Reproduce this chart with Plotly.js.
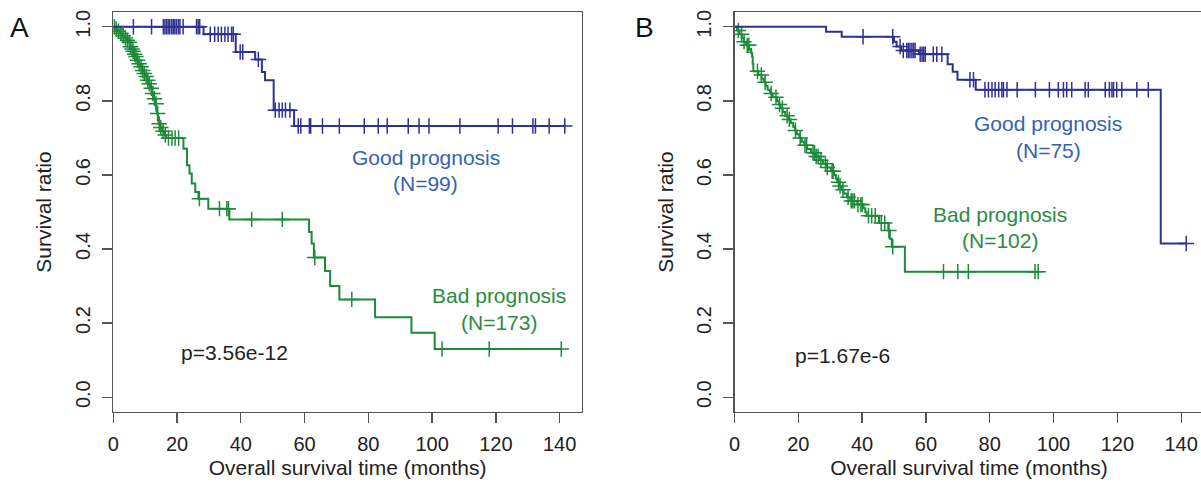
<!DOCTYPE html>
<html>
<head>
<meta charset="utf-8">
<script src="https://cdn.plot.ly/plotly-3.0.1.min.js"></script>
<style>
html,body{margin:0;padding:0;overflow:hidden;background:#fff;}
#chart{width:1206px;height:486px;}
</style>
</head>
<body>
<div id="chart"></div>
<script>
// ---------- Panel A ----------
const aGoodTime = [0, 28.3, 38.4, 44.5, 46.6, 47.6, 50.3, 56.7];
const aGoodSurv = [1.0, 0.980, 0.932, 0.912, 0.878, 0.856, 0.775, 0.732];
const aGoodCens = [6.3, 12.0, 15.7, 16.2, 16.7, 17.2, 17.7, 18.3, 18.8, 19.3, 19.8, 20.4, 20.9, 21.9, 26.1, 26.6, 27.1,
  30.4, 31.8, 32.9, 33.9, 35.0, 36.0, 37.1, 37.6, 39.8, 40.6, 45.5, 50.8, 52.0, 53.0, 54.0, 55.4,
  58.0, 58.8, 61.5, 61.9, 65.6, 70.9, 78.7, 83.1, 85.9, 92.5, 95.9, 99.0, 108.7, 120.7, 125.2, 131.6, 132.4, 136.7, 141.6];

const aBadTime = [0, 0.5, 1.0, 2.0, 2.8, 3.5, 4.2, 4.8, 5.2, 5.6, 6.0, 6.4, 6.9, 7.4, 7.9, 8.4, 9.0, 9.5, 10.0, 10.6,
  11.1, 11.6, 12.1, 12.6, 13.2, 13.5, 13.7, 14.0, 14.2, 14.7, 15.2, 16.0, 16.6, 22.0, 23.1, 23.9, 24.6, 25.7, 26.7, 29.8,
  36.4, 61.4, 62.2, 62.9, 66.4, 68.0, 70.9, 82.1, 93.5, 100.8];
const aBadSurv = [1.0, 0.994, 0.988, 0.982, 0.976, 0.970, 0.964, 0.958, 0.946, 0.940, 0.934, 0.926, 0.920, 0.910, 0.900, 0.892, 0.882, 0.874, 0.866, 0.856,
  0.846, 0.834, 0.820, 0.806, 0.792, 0.780, 0.766, 0.752, 0.738, 0.728, 0.718, 0.708, 0.700, 0.671, 0.626, 0.604, 0.577, 0.554, 0.536, 0.509,
  0.480, 0.446, 0.415, 0.377, 0.341, 0.300, 0.264, 0.216, 0.174, 0.130];
const aBadCens = [0.3, 0.9, 1.6, 2.4, 3.1, 3.8, 4.4, 5.0, 5.4, 5.9, 6.2, 6.7, 7.1, 7.6, 8.1, 8.7, 9.2, 9.7, 10.3, 10.8,
  11.3, 11.9, 12.4, 12.9, 13.4, 13.9, 14.4, 14.9, 15.6, 16.3, 17.3, 18.4, 19.4, 20.5, 27.0, 33.3, 35.6, 36.1, 43.4, 53.0,
  63.2, 74.8, 103.1, 117.9, 140.5];

// ---------- Panel B ----------
const bGoodTime = [0, 28.7, 33.6, 50.0, 50.8, 52.2, 57.8, 66.8, 68.4, 69.9, 75.6, 133.6];
const bGoodSurv = [1.0, 0.987, 0.973, 0.960, 0.947, 0.936, 0.926, 0.899, 0.879, 0.857, 0.830, 0.415];
const bGoodCens = [40.3, 49.6, 51.9, 52.9, 54.0, 54.5, 55.0, 55.6, 56.1, 56.6, 58.2, 58.8, 59.3, 59.8, 62.3, 63.4, 65.0, 73.8, 74.9,
  78.5, 79.6, 80.7, 81.7, 82.8, 83.8, 84.3, 85.4, 88.6, 94.3, 98.7, 101.5, 103.1, 104.1, 105.7, 109.9, 110.9, 116.2, 117.5,
  118.3, 118.8, 119.8, 121.4, 126.1, 129.7, 141.6];

const bBadTime = [0, 0.8, 1.5, 2.3, 2.9, 3.6, 4.6, 5.2, 5.5, 5.7, 5.9, 7.5, 8.5, 9.2, 9.8, 10.4, 11.2, 12.0, 13.3, 13.9,
  14.4, 15.1, 15.9, 16.9, 17.6, 18.4, 19.0, 19.5, 20.3, 21.1, 21.9, 22.8, 24.0, 25.4, 26.6, 27.8, 28.8, 30.2, 31.2, 31.8,
  32.2, 32.8, 33.5, 34.2, 35.2, 36.3, 38.5, 40.4, 41.0, 41.4, 45.3, 48.2, 48.7, 49.3, 53.4];
const bBadSurv = [1.0, 0.99, 0.98, 0.97, 0.96, 0.95, 0.94, 0.93, 0.92, 0.90, 0.88, 0.87, 0.86, 0.85, 0.84, 0.83, 0.82, 0.81, 0.80, 0.79,
  0.78, 0.77, 0.76, 0.75, 0.74, 0.73, 0.72, 0.71, 0.70, 0.69, 0.68, 0.67, 0.66, 0.65, 0.64, 0.63, 0.62, 0.61, 0.60, 0.59,
  0.58, 0.57, 0.56, 0.55, 0.54, 0.53, 0.52, 0.51, 0.50, 0.49, 0.47, 0.45, 0.428, 0.406, 0.339];
const bBadCens = [1.2, 2.2, 3.0, 4.0, 4.5, 7.2, 8.4, 9.6, 11.5, 13.0, 14.1, 15.0, 16.5, 17.2, 19.1, 20.6, 22.1, 22.6, 24.6, 25.1,
  25.6, 26.2, 27.1, 28.5, 29.1, 30.6, 31.0, 32.6, 33.1, 34.0, 35.6, 36.6, 37.1, 37.6, 38.7, 39.6, 40.0, 42.0, 43.0, 44.1,
  46.0, 47.1, 48.4, 49.6, 65.5, 70.0, 73.3, 94.2, 95.2];

const xTicks = [0, 20, 40, 60, 80, 100, 120, 140];
const yTicks = [0, 0.2, 0.4, 0.6, 0.8, 1.0];
const yTickText = ['0.0', '0.2', '0.4', '0.6', '0.8', '1.0'];

const GOOD = '#2e3192';
const BAD = '#1d8a3a';
const GOOD_TXT = '#3563ad';
const BAD_TXT = '#2a8c3f';
const FONT = 'Liberation Sans, Arial, Helvetica, sans-serif';

function survAt(times, surv, t) {
  let s = surv[0];
  for (let i = 0; i < times.length; i++) { if (times[i] <= t) s = surv[i]; }
  return s;
}

function kmTraces(times, surv, cens, color, xa, ya) {
  const end = Math.max(times[times.length - 1], cens[cens.length - 1]);
  const lx = times.concat([end]);
  const ly = surv.concat([surv[surv.length - 1]]);
  return [
    {x: lx, y: ly, xaxis: xa, yaxis: ya, mode: 'lines', line: {shape: 'hv', color: color, width: 2},
     hoverinfo: 'skip', showlegend: false},
    {x: cens, y: cens.map(t => survAt(times, surv, t)), xaxis: xa, yaxis: ya, mode: 'markers',
     marker: {symbol: 'cross-thin', size: 11, line: {color: color, width: 1.5}, color: color},
     hoverinfo: 'skip', showlegend: false}
  ];
}

const data = [].concat(
  kmTraces(aBadTime, aBadSurv, aBadCens, BAD, 'x', 'y'),
  kmTraces(aGoodTime, aGoodSurv, aGoodCens, GOOD, 'x', 'y'),
  kmTraces(bBadTime, bBadSurv, bBadCens, BAD, 'x2', 'y2'),
  kmTraces(bGoodTime, bGoodSurv, bGoodCens, GOOD, 'x2', 'y2')
);

const W = 1206, H = 486;
const AXC = '#555555';
function xAxis(d0, d1, anchor) {
  return {domain: [d0 / W, d1 / W], anchor: anchor, range: [0, 147], tickvals: xTicks, ticks: 'outside', ticklen: 10,
    tickwidth: 1.3, tickcolor: AXC, showline: true, mirror: true, linecolor: AXC, linewidth: 1.3, showgrid: false,
    zeroline: false, tickfont: {family: FONT, size: 20, color: '#222'}, ticklabelstandoff: 4,
    title: {text: 'Overall survival time (months)', font: {family: FONT, size: 21, color: '#222'}, standoff: 6}};
}
function yAxis(anchor) {
  return {domain: [(H - 412) / H, (H - 12) / H], anchor: anchor, range: [-0.04, 1.04], tickvals: yTicks, ticktext: yTickText,
    tickangle: -90, ticks: 'outside', ticklen: 10, tickwidth: 1.3, tickcolor: AXC, showline: true, mirror: true,
    linecolor: AXC, linewidth: 1.3, showgrid: false, zeroline: false, tickfont: {family: FONT, size: 20, color: '#222'},
    ticklabelstandoff: 4,
    title: {text: 'Survival ratio', font: {family: FONT, size: 21, color: '#222'}, standoff: 14}};
}

function note(text, x, y, xa, ya, color) {
  return {text: text, x: x, y: y, xref: xa, yref: ya, showarrow: false, xanchor: 'center', yanchor: 'middle',
    font: {family: FONT, size: 21, color: color}};
}

const layout = {
  width: W, height: H, margin: {l: 0, r: 0, t: 0, b: 0}, paper_bgcolor: '#fff', plot_bgcolor: '#fff',
  xaxis: xAxis(113.3, 582, 'y'),
  yaxis: yAxis('x'),
  xaxis2: xAxis(734.5, 1203.5, 'y2'),
  yaxis2: yAxis('x2'),
  annotations: [
    note('Good prognosis', 98, 0.648, 'x', 'y', GOOD_TXT),
    note('(N=99)', 98, 0.576, 'x', 'y', GOOD_TXT),
    note('Bad prognosis', 121, 0.274, 'x', 'y', BAD_TXT),
    note('(N=173)', 121, 0.203, 'x', 'y', BAD_TXT),
    note('p=3.56e-12', 38, 0.121, 'x', 'y', '#222'),
    note('Good prognosis', 98.3, 0.740, 'x2', 'y2', GOOD_TXT),
    note('(N=75)', 98.3, 0.667, 'x2', 'y2', GOOD_TXT),
    note('Bad prognosis', 83.2, 0.494, 'x2', 'y2', BAD_TXT),
    note('(N=102)', 83.2, 0.424, 'x2', 'y2', BAD_TXT),
    note('p=1.67e-6', 34, 0.113, 'x2', 'y2', '#222'),
    {text: 'A', x: 19 / W, y: 1 - 28 / H, xref: 'paper', yref: 'paper', showarrow: false, xanchor: 'center', yanchor: 'middle',
     font: {family: FONT, size: 28, color: '#111'}},
    {text: 'B', x: 645 / W, y: 1 - 28 / H, xref: 'paper', yref: 'paper', showarrow: false, xanchor: 'center', yanchor: 'middle',
     font: {family: FONT, size: 28, color: '#111'}}
  ]
};

Plotly.newPlot('chart', data, layout, {staticPlot: true, displayModeBar: false});
</script>
</body>
</html>
